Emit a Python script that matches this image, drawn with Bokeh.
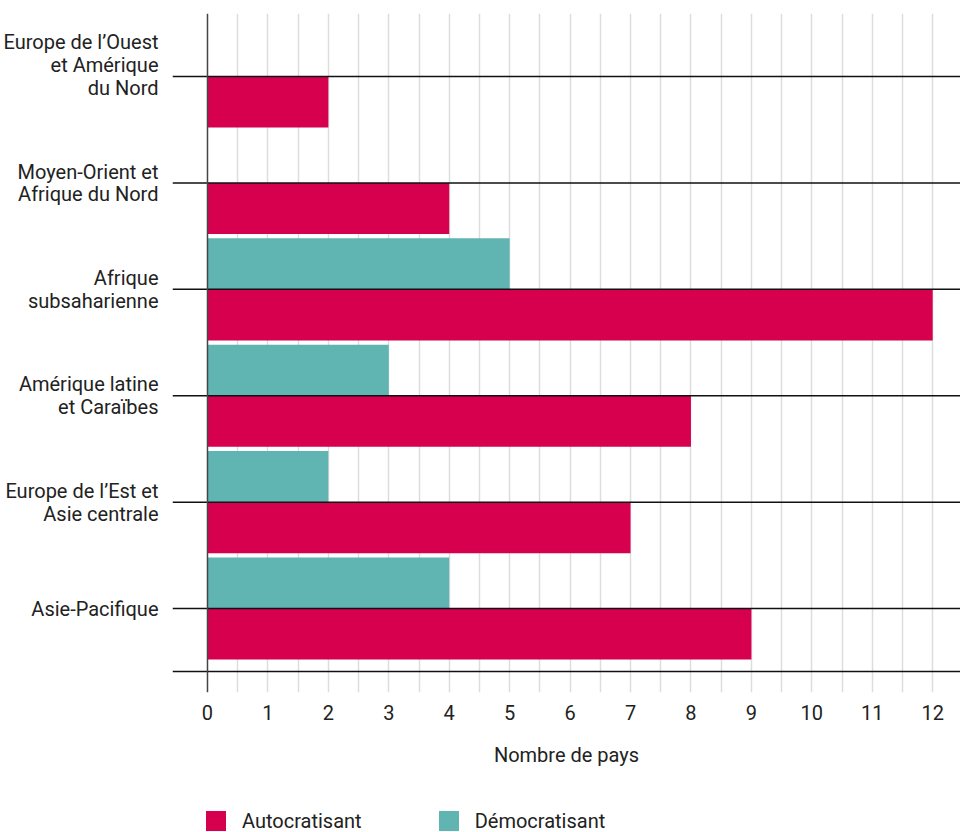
from bokeh.plotting import figure
from bokeh.layouts import column
from bokeh.models import Range1d, FixedTicker, Span, Legend, LegendItem, ColumnDataSource
from bokeh.embed import file_html
from bokeh.resources import INLINE

regions = [
    "Europe de l’Ouest\net Amérique\ndu Nord\n",
    "Moyen-Orient et\nAfrique du Nord",
    "Afrique\nsubsaharienne",
    "Amérique latine\net Caraïbes",
    "Europe de l’Est et\nAsie centrale",
    "Asie-Pacifique",
]
autocratisant = [2, 4, 12, 8, 7, 9]
democratisant = [0, 0, 5, 3, 2, 4]
x_ticks = list(range(0, 13))
series_names = ["Autocratisant", "Démocratisant"]

FONT = "Roboto"
FS = "20px"
C_AUTO = "#D6004F"
C_DEMO = "#60B5B3"

n = len(regions)
idx = list(range(n))
pad = 0.592
bar_h = 0.48

p = figure(
    frame_width=788, frame_height=679,
    min_border_left=162, min_border_top=13, min_border_right=0, min_border_bottom=85,
    x_range=Range1d(-0.579, 12.46), y_range=Range1d(n - 1 + pad + 0.197, -pad),
    output_backend="svg", toolbar_location=None,
)
p.outline_line_color = None
p.background_fill_color = "white"
p.border_fill_color = "white"

src_auto = ColumnDataSource(dict(y=[i + bar_h / 2 for i in idx], right=autocratisant))
src_demo = ColumnDataSource(dict(y=[i - bar_h / 2 for i in idx], right=democratisant))
p.hbar(y="y", left=0, right="right", height=bar_h, source=src_auto,
       fill_color=C_AUTO, line_color=None)
p.hbar(y="y", left=0, right="right", height=bar_h, source=src_demo,
       fill_color=C_DEMO, line_color=None)

# horizontal category lines + bottom line
line_ys = idx + [n - 1 + pad]
p.segment(x0=[-0.579] * len(line_ys), x1=[12.46] * len(line_ys), y0=line_ys, y1=line_ys,
          line_color="#111111", line_width=1.5)

p.add_layout(Span(location=0, dimension="height", line_color="#444444", line_width=1.5))

# grid
p.ygrid.visible = False
p.xgrid.ticker = FixedTicker(ticks=[k * 0.5 for k in range(1, 26)])
p.xgrid.grid_line_color = "#dddddd"
p.xgrid.grid_line_width = 1.5

# x axis
xa = p.xaxis[0]
xa.ticker = FixedTicker(ticks=x_ticks)
xa.axis_line_color = None
xa.major_tick_line_color = None
xa.minor_tick_line_color = None
xa.major_label_text_font = FONT
xa.major_label_text_font_size = FS
xa.major_label_text_color = "#222222"
xa.major_label_standoff = 6
xa.axis_label = "Nombre de pays"
xa.axis_label_text_font = FONT
xa.axis_label_text_font_size = FS
xa.axis_label_text_font_style = "normal"
xa.axis_label_text_color = "#222222"
xa.axis_label_standoff = 20

# y axis
ya = p.yaxis[0]
ya.ticker = FixedTicker(ticks=idx)
ya.major_label_overrides = {i: regions[i] for i in idx}
ya.axis_line_color = None
ya.major_tick_line_color = None
ya.minor_tick_line_color = None
ya.major_label_text_font = FONT
ya.major_label_text_font_size = FS
ya.major_label_text_color = "#222222"
ya.major_label_text_line_height = 0.95
ya.major_label_standoff = 8

# legend strip (separate small figure so the legend is not clipped)
lg = figure(
    width=960, height=55, x_range=Range1d(0, 1), y_range=Range1d(0, 1),
    x_axis_type=None, y_axis_type=None, min_border=0,
    output_backend="svg", toolbar_location=None,
)
lg.outline_line_color = None
lg.grid.visible = False
# zero-width proxies, only used to give the legend its swatches
proxy = ColumnDataSource(dict(y=[0.5], right=[0]))
la = lg.hbar(y="y", left=0, right="right", height=0.5, source=proxy,
             fill_color=C_AUTO, line_color=None)
ld = lg.hbar(y="y", left=0, right="right", height=0.5, source=proxy,
             fill_color=C_DEMO, line_color=None)
legend = Legend(
    items=[LegendItem(label=series_names[0], renderers=[la]),
           LegendItem(label=series_names[1], renderers=[ld])],
    location=(31, -1), orientation="horizontal",
    glyph_width=25, glyph_height=25, label_standoff=14, spacing=74,
    padding=0, margin=0, border_line_color=None, background_fill_alpha=0,
    label_text_font=FONT, label_text_font_size=FS, label_text_color="#222222",
)
lg.add_layout(legend, "center")

layout = column(p, lg, spacing=0)
open("out.html", "w").write(file_html(layout, INLINE))
